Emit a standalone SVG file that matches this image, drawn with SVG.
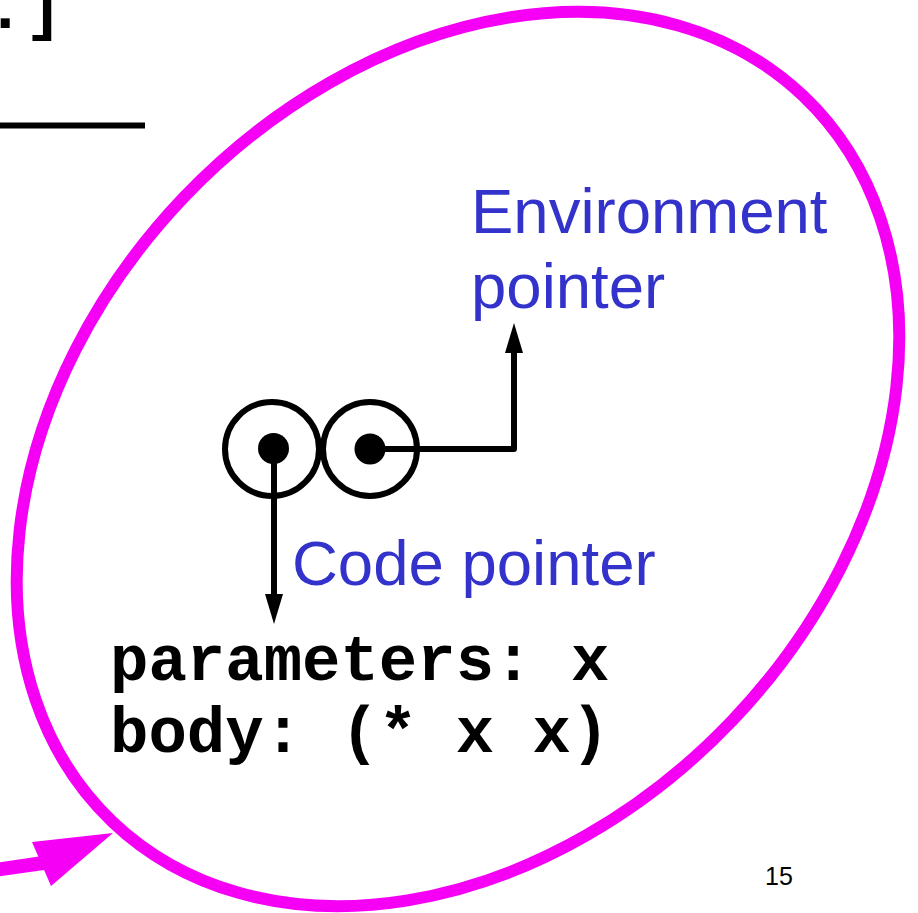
<svg xmlns="http://www.w3.org/2000/svg" width="918" height="913" viewBox="0 0 918 913">
<style>
.mono{font-family:"Liberation Mono","Courier New",monospace;font-weight:bold;font-size:64px;fill:#000}
.lbl{font-family:"Liberation Sans",Arial,sans-serif;font-size:63.5px;fill:#3333CC}
.ring{fill:#fff;stroke:#000;stroke-width:6}
.wire{fill:none;stroke:#000;stroke-width:6;stroke-linejoin:round}
.mag{stroke:#F500F5}
</style>
<defs>
<marker id="ah" markerUnits="userSpaceOnUse" markerWidth="31" markerHeight="20" refX="1" refY="9" orient="auto">
<polygon points="0,0 30,9 0,18" fill="#000"/>
</marker>
</defs>
<rect width="918" height="913" fill="#fff"/>
<g id="prev-text">
<text class="mono" x="-14" y="28">.]</text>
<line x1="0" y1="125.5" x2="145" y2="125.5" stroke="#000" stroke-width="6"/>
</g>
<g id="closure-ellipse">
<ellipse cx="458" cy="459" rx="501" ry="379" transform="rotate(-46.4 458 459)" fill="none" class="mag" stroke-width="12"/>
</g>
<g id="pointer-arrow">
<path d="M -5 870 L 50 862" class="mag" stroke-width="14" fill="none"/>
<polygon points="113,833 32,842 51,886" fill="#F500F5"/>
</g>
<g id="cell-left">
<circle class="ring" cx="272" cy="449" r="47"/>
<circle cx="273.5" cy="448.5" r="15.5" fill="#000"/>
</g>
<g id="cell-right">
<circle class="ring" cx="370" cy="449" r="47"/>
<circle cx="370" cy="449" r="15.5" fill="#000"/>
</g>
<g id="connectors">
<path class="wire" d="M 274 449 L 274 595" marker-end="url(#ah)"/>
<path class="wire" d="M 370 449 L 514 449 L 514 352" marker-end="url(#ah)"/>
</g>
<g id="env-label">
<text class="lbl" x="471" y="233">Environment</text>
<text class="lbl" x="471" y="308">pointer</text>
</g>
<g id="code-label">
<text class="lbl" x="292" y="585">Code pointer</text>
</g>
<g id="code-text">
<text class="mono" x="110" y="680">parameters: x</text>
<text class="mono" x="110" y="752">body: (* x x)</text>
</g>
<g id="page-number">
<text x="765" y="885" font-family="Liberation Sans, Arial, sans-serif" font-size="25" fill="#000">15</text>
</g>
</svg>
